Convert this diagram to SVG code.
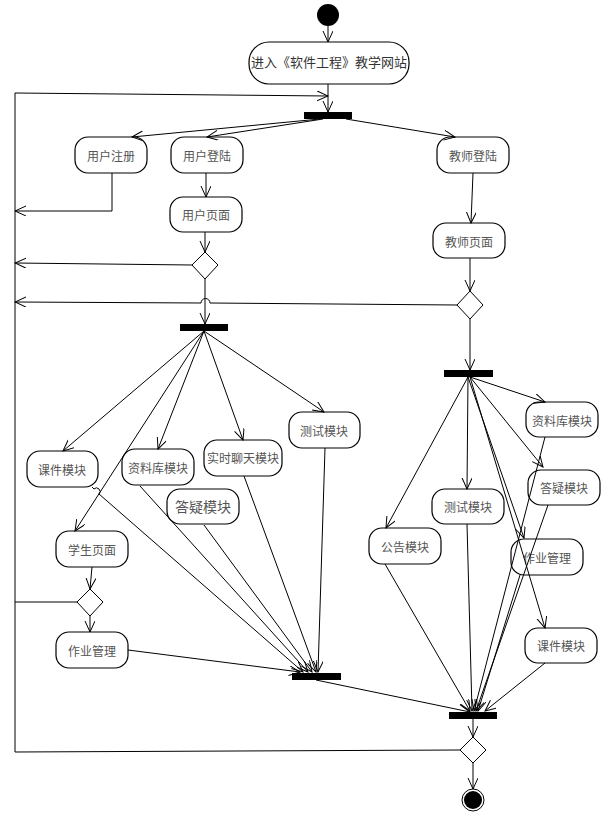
<svg xmlns="http://www.w3.org/2000/svg" width="604" height="815" viewBox="0 0 604 815">
<defs>
<marker id="arr" markerWidth="12" markerHeight="12" refX="11" refY="5" orient="auto" markerUnits="userSpaceOnUse">
<path d="M0,0 L11,5 L0,10" fill="none" stroke="#000" stroke-width="1"/>
</marker>
<style>
.box{fill:#fff;stroke:#000;stroke-width:1.2}
.bar{fill:#000}
.dia{fill:#fff;stroke:#000;stroke-width:1}
.t{font-family:"Noto Sans CJK SC","Noto Sans",sans-serif;font-size:12px;fill:#555;text-anchor:middle;dominant-baseline:central}
.c line,.c path,.c polyline{stroke:#000;stroke-width:1;fill:none}
.a{marker-end:url(#arr)}
</style>
</defs>
<rect width="604" height="815" fill="#fff"/>

<g id="start"><circle cx="328" cy="15" r="11" fill="#000"/></g>
<g id="n_enter"><rect class="box" x="249" y="42" width="160" height="42" rx="20"/><text class="t" x="329" y="61" style="font-size:13px;fill:#333">进入《软件工程》教学网站</text></g>
<g id="fork1"><rect class="bar" x="304" y="112" width="48" height="7"/></g>
<g id="n_reg"><rect class="box" x="75" y="137" width="72" height="36" rx="13"/><text class="t" x="111" y="155">用户注册</text></g>
<g id="n_login"><rect class="box" x="171" y="137" width="72" height="36" rx="13"/><text class="t" x="207" y="155">用户登陆</text></g>
<g id="n_tlogin"><rect class="box" x="437" y="137" width="72" height="36" rx="13"/><text class="t" x="473" y="155">教师登陆</text></g>
<g id="n_upage"><rect class="box" x="170" y="197" width="72" height="35" rx="13"/><text class="t" x="206" y="214">用户页面</text></g>
<g id="n_tpage"><rect class="box" x="433" y="223" width="72" height="35" rx="13"/><text class="t" x="469" y="241">教师页面</text></g>
<g id="d1"><polygon class="dia" points="205,252 218,265 205,279 192,265"/></g>
<g id="d2"><polygon class="dia" points="470,291 483,305 470,319 457,305"/></g>
<g id="fork2"><rect class="bar" x="180" y="324" width="48" height="7"/></g>
<g id="fork3"><rect class="bar" x="444" y="370" width="49" height="7"/></g>
<g id="n_kj1"><rect class="box" x="27" y="451" width="71" height="36" rx="13"/><text class="t" x="62" y="469">课件模块</text></g>
<g id="n_zl1"><rect class="box" x="122" y="449" width="72" height="36" rx="13"/><text class="t" x="158" y="467">资料库模块</text></g>
<g id="n_chat"><rect class="box" x="204" y="440" width="78" height="36" rx="13"/><text class="t" x="243" y="457">实时聊天模块</text></g>
<g id="n_cs1"><rect class="box" x="289" y="412" width="71" height="36" rx="13"/><text class="t" x="324" y="430">测试模块</text></g>
<g id="n_dy1"><rect class="box" x="167" y="489" width="72" height="35" rx="13"/><text class="t" x="203" y="506" style="font-size:14px">答疑模块</text></g>
<g id="n_stu"><rect class="box" x="56" y="531" width="72" height="36" rx="13"/><text class="t" x="92" y="549">学生页面</text></g>
<g id="d3"><polygon class="dia" points="90,589 103,602 90,616 77,602"/></g>
<g id="n_zy1"><rect class="box" x="56" y="632" width="72" height="36" rx="13"/><text class="t" x="92" y="650">作业管理</text></g>
<g id="join1"><rect class="bar" x="292" y="673" width="49" height="7"/></g>
<g id="n_zl2"><rect class="box" x="526" y="402" width="72" height="35" rx="13"/><text class="t" x="562" y="420">资料库模块</text></g>
<g id="n_dy2"><rect class="box" x="528" y="470" width="72" height="35" rx="13"/><text class="t" x="564" y="487">答疑模块</text></g>
<g id="n_cs2"><rect class="box" x="432" y="489" width="72" height="35" rx="13"/><text class="t" x="468" y="506">测试模块</text></g>
<g id="n_gg"><rect class="box" x="369" y="528" width="72" height="36" rx="13"/><text class="t" x="405" y="546">公告模块</text></g>
<g id="n_zy2"><rect class="box" x="511" y="539" width="72" height="36" rx="13"/><text class="t" x="547" y="557">作业管理</text></g>
<g id="n_kj2"><rect class="box" x="525" y="628" width="72" height="35" rx="13"/><text class="t" x="561" y="645">课件模块</text></g>
<g id="join2"><rect class="bar" x="449" y="712" width="48" height="7"/></g>
<g id="d4"><polygon class="dia" points="473,737 486,750 473,763 460,750"/></g>
<g id="end"><circle cx="473" cy="800" r="11" fill="#fff" stroke="#000" stroke-width="1"/><circle cx="473" cy="800" r="9" fill="#000"/></g>

<g class="c" id="connectors">
<line class="a" x1="328" y1="26" x2="328" y2="42"/>
<line class="a" x1="328" y1="84" x2="328" y2="112"/>
<polyline class="a" points="15,752 15,93 328,96"/>
<line class="a" x1="320" y1="119" x2="132" y2="137"/>
<line class="a" x1="323" y1="119" x2="207" y2="137"/>
<line class="a" x1="346" y1="119" x2="455" y2="137"/>
<polyline class="a" points="112,173 112,211 15,211"/>
<line class="a" x1="206" y1="173" x2="206" y2="197"/>
<line class="a" x1="205" y1="232" x2="205" y2="252"/>
<line class="a" x1="192" y1="265" x2="15" y2="263"/>
<line class="a" x1="205" y1="279" x2="205" y2="324"/>
<line class="a" x1="473" y1="173" x2="471" y2="223"/>
<line class="a" x1="470" y1="258" x2="470" y2="291"/>
<path class="a" d="M457,305 L210,303 A4.5,4.5 0 0 0 201,303 L15,302"/>
<line class="a" x1="470" y1="319" x2="470" y2="370"/>
<line class="a" x1="204" y1="331" x2="63" y2="451"/>
<line class="a" x1="204" y1="331" x2="75" y2="531"/>
<line class="a" x1="204" y1="331" x2="158" y2="449"/>
<line class="a" x1="204" y1="331" x2="243" y2="440"/>
<line class="a" x1="204" y1="331" x2="324" y2="412"/>
<line class="a" x1="92" y1="567" x2="90" y2="589"/>
<line x1="77" y1="602" x2="15" y2="602"/>
<line class="a" x1="90" y1="616" x2="90" y2="632"/>
<line class="a" x1="128" y1="650" x2="300" y2="672"/>
<path class="a" d="M92,487 L94,489 A3.5,3.5 0 0 1 99,494 L303,672"/>
<line class="a" x1="140" y1="486" x2="308" y2="672"/>
<line class="a" x1="204" y1="525" x2="312" y2="672"/>
<line class="a" x1="244" y1="476" x2="316" y2="672"/>
<line class="a" x1="325" y1="448" x2="318" y2="672"/>
<line class="a" x1="316" y1="680" x2="470" y2="712"/>
<line class="a" x1="468" y1="377" x2="386" y2="528"/>
<line class="a" x1="468" y1="377" x2="467" y2="489"/>
<line class="a" x1="468" y1="377" x2="524" y2="538"/>
<line class="a" x1="470" y1="377" x2="545" y2="628"/>
<line class="a" x1="470" y1="377" x2="543" y2="467"/>
<line class="a" x1="470" y1="377" x2="545" y2="402"/>
<line class="a" x1="385" y1="564" x2="470" y2="711"/>
<line class="a" x1="467" y1="524" x2="472" y2="711"/>
<line class="a" x1="545" y1="437" x2="474" y2="711"/>
<line class="a" x1="548" y1="505" x2="476" y2="711"/>
<line class="a" x1="520" y1="575" x2="478" y2="711"/>
<line class="a" x1="545" y1="663" x2="485" y2="711"/>
<line class="a" x1="473" y1="719" x2="473" y2="737"/>
<line x1="460" y1="750" x2="15" y2="752"/>
<line class="a" x1="473" y1="763" x2="473" y2="789"/>
</g>
</svg>
